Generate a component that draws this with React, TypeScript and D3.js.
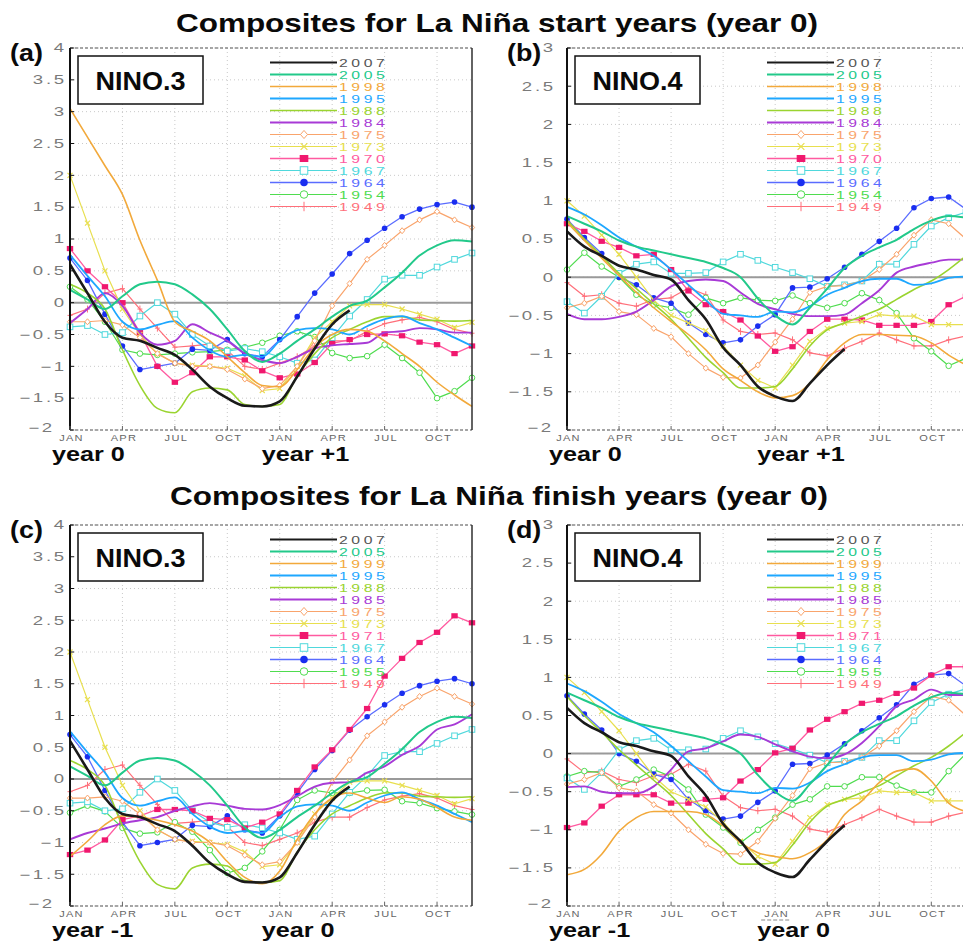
import React from 'react';
import * as d3 from 'd3';

// month index 0..23 = JAN of first year .. DEC of second year
const monthTicks = [0, 3, 6, 9, 12, 15, 18, 21];
const monthTickLabels = ['JAN', 'APR', 'JUL', 'OCT', 'JAN', 'APR', 'JUL', 'OCT'];

const startYears = ['2007', '2005', '1998', '1995', '1988', '1984', '1975', '1973', '1970', '1967', '1964', '1954', '1949'];
const finishYears = ['2007', '2005', '1999', '1995', '1988', '1985', '1975', '1973', '1971', '1967', '1964', '1955', '1949'];

const N = null;

// ---- NINO.3 ----
const n3_2007 = [0.6, 0.15, -0.3, -0.55, -0.6, -0.71, -0.82, -1.05, -1.32, -1.5, -1.62, -1.63, -1.55, -1.16, -0.72, -0.34, -0.12, N, N, N, N, N, N, N];
const n3_2005 = [0.2, 0.05, -0.1, 0.1, 0.29, 0.33, 0.29, 0.13, -0.1, -0.42, -0.76, -0.93, -0.8, -0.6, -0.42, -0.22, -0.05, 0.03, 0.24, 0.47, 0.74, 0.9, 0.98, 0.96];
const n3_1998 = [3.05, 2.6, 2.15, 1.7, 0.98, 0.35, -0.3, -0.45, -0.6, -0.85, -1.1, -1.3, -1.32, -1.05, -0.7, -0.5, -0.42, -0.45, -0.6, -0.8, -1.0, -1.25, -1.45, -1.63];
const n3_1995 = [0.75, 0.42, 0.1, -0.3, -0.42, -0.35, -0.29, -0.55, -0.75, -0.85, -0.82, -0.85, -0.6, -0.43, -0.4, -0.42, -0.5, -0.37, -0.26, -0.21, -0.32, -0.42, -0.55, -0.68];
const n3_1988 = [0.29, 0.15, -0.1, -0.74, -1.3, -1.66, -1.73, -1.4, -1.34, -1.37, -1.6, -1.63, -1.6, -1.15, -0.8, -0.55, -0.42, -0.3, -0.22, -0.22, -0.27, -0.28, -0.29, -0.28];
const n3_1984 = [-0.32, -0.1, 0.15, -0.05, -0.47, -0.66, -0.6, -0.34, -0.47, -0.6, -0.8, -0.9, -0.95, -0.85, -0.72, -0.67, -0.65, -0.63, -0.47, -0.45, -0.4, -0.42, -0.47, -0.47];
const n3_1975 = [-0.3, -0.3, -0.28, -0.35, -0.55, -0.8, -0.95, -1.0, -1.0, -1.05, -1.2, -1.35, -1.3, -1.0, -0.6, -0.05, 0.3, 0.68, 0.9, 1.13, 1.3, 1.43, 1.3, 1.18];
const n3_1973 = [2.0, 1.25, 0.5, -0.1, -0.5, -0.8, -0.95, -0.98, -1.0, -1.03, -1.15, -1.38, -1.35, -1.0, -0.55, -0.3, -0.05, -0.03, -0.03, -0.1, -0.18, -0.26, -0.39, -0.31];
const n3_1970 = [0.85, 0.5, 0.25, 0.0, -0.47, -1.0, -1.25, -1.1, -0.85, -0.85, -0.9, -1.07, -1.18, -1.12, -0.94, -0.64, -0.58, -0.5, -0.49, -0.52, -0.62, -0.66, -0.8, -0.68];
const n3_1967 = [-0.38, -0.36, -0.5, -0.47, -0.21, 0.0, -0.18, -0.5, -0.68, -0.76, -0.72, -0.77, -0.85, -0.95, -0.9, -0.55, -0.21, 0.05, 0.37, 0.43, 0.43, 0.56, 0.68, 0.78];
const n3_1964 = [0.7, 0.35, -0.18, -0.68, -1.05, -1.0, -0.95, -0.73, -0.75, -0.58, -0.8, -0.85, -0.58, -0.22, 0.15, 0.45, 0.77, 0.98, 1.17, 1.35, 1.47, 1.54, 1.58, 1.5];
const n3_1954 = [0.25, 0.05, -0.3, -0.74, -0.8, -0.82, -0.8, -0.78, -0.77, -0.74, -0.7, -0.63, -0.52, -0.45, -0.54, -0.79, -0.87, -0.84, -0.66, -0.87, -1.1, -1.5, -1.39, -1.18];
const n3_1949 = [-0.2, -0.1, 0.15, 0.22, -0.1, -0.4, -0.7, -0.68, -0.65, -0.75, -1.0, -1.05, -0.95, -0.85, -0.68, -0.6, -0.6, -0.45, -0.33, -0.27, -0.23, -0.3, -0.42, -0.48];
// finish-year members that differ
const n3_1999 = [-1.22, -0.98, -0.72, -0.58, -0.6, -0.65, -0.72, -0.82, -1.0, -1.3, -1.55, -1.65, -1.45, -0.95, -0.55, -0.3, -0.22, -0.3, -0.37, -0.28, -0.32, -0.45, -0.6, -0.65];
const n3_1985 = [-0.95, -0.85, -0.78, -0.7, -0.65, -0.6, -0.5, -0.43, -0.38, -0.42, -0.47, -0.48, -0.41, -0.27, -0.12, -0.06, -0.05, 0.1, 0.2, 0.38, 0.52, 0.78, 0.86, 1.02];
const n3_1971 = [-1.19, -1.12, -0.96, -0.64, -0.58, -0.48, -0.48, -0.5, -0.62, -0.64, -0.77, -0.68, -0.55, -0.18, 0.19, 0.46, 0.78, 1.11, 1.62, 1.9, 2.15, 2.31, 2.57, 2.46];
const n3_1955 = [-0.53, -0.42, -0.51, -0.77, -0.86, -0.84, -0.68, -0.83, -1.12, -1.48, -1.4, -1.14, -0.8, -0.33, -0.18, -0.22, -0.22, -0.18, -0.17, -0.35, -0.38, -0.46, -0.51, -0.56];

// ---- NINO.4 ----
const n4_2007 = [0.6, 0.4, 0.28, 0.15, 0.1, 0.03, -0.03, -0.3, -0.55, -0.92, -1.15, -1.43, -1.56, -1.62, -1.39, -1.15, -0.94, N, N, N, N, N, N, N];
const n4_2005 = [0.8, 0.7, 0.6, 0.48, 0.4, 0.35, 0.3, 0.25, 0.2, 0.12, 0.0, -0.28, -0.5, -0.62, -0.4, -0.15, 0.12, 0.28, 0.39, 0.49, 0.63, 0.74, 0.8, 0.78];
const n4_1998 = [0.72, 0.48, 0.25, 0.02, -0.2, -0.4, -0.58, -0.75, -0.95, -1.2, -1.35, -1.5, -1.58, -1.55, -1.39, -1.08, -0.86, -0.75, -0.75, -0.76, -0.77, -0.86, -1.02, -1.15];
const n4_1995 = [0.92, 0.82, 0.68, 0.52, 0.4, 0.28, 0.1, -0.1, -0.3, -0.48, -0.5, -0.52, -0.45, -0.46, -0.38, -0.23, -0.14, -0.05, -0.02, -0.02, -0.1, -0.08, -0.01, 0.01];
const n4_1988 = [0.75, 0.5, 0.28, 0.05, -0.15, -0.35, -0.55, -0.8, -1.05, -1.25, -1.45, -1.45, -1.43, -1.2, -0.9, -0.69, -0.6, -0.51, -0.42, -0.29, -0.16, -0.05, 0.1, 0.28];
const n4_1984 = [-0.48, -0.55, -0.55, -0.52, -0.45, -0.3, -0.12, -0.05, -0.03, -0.05, -0.2, -0.35, -0.42, -0.48, -0.51, -0.51, -0.49, -0.34, -0.17, 0.06, 0.14, 0.19, 0.23, 0.23];
const n4_1975 = [-0.4, -0.34, -0.25, -0.45, -0.49, -0.67, -0.78, -1.0, -1.19, -1.31, -1.32, -1.15, -0.85, -0.55, -0.2, -0.12, -0.11, -0.05, 0.1, 0.3, 0.55, 0.75, 0.7, 0.5];
const n4_1973 = [1.0, 0.8, 0.55, 0.3, 0.0, -0.3, -0.5, -0.6, -0.7, -0.9, -1.15, -1.35, -1.45, -1.15, -0.84, -0.67, -0.6, -0.58, -0.49, -0.51, -0.51, -0.62, -0.62, -0.62];
const n4_1970 = [0.7, 0.6, 0.47, 0.39, 0.28, 0.3, 0.1, -0.18, -0.36, -0.45, -0.56, -0.77, -0.97, -0.91, -0.71, -0.55, -0.55, -0.56, -0.63, -0.63, -0.63, -0.58, -0.36, -0.25];
const n4_1967 = [-0.32, -0.47, -0.25, 0.05, 0.17, 0.2, 0.05, 0.05, 0.06, 0.2, 0.3, 0.22, 0.13, 0.06, -0.02, -0.12, -0.1, -0.05, 0.17, 0.17, 0.43, 0.67, 0.78, 0.85];
const n4_1964 = [0.76, 0.52, 0.31, 0.0, -0.1, -0.27, -0.34, -0.6, -0.75, -0.86, -0.82, -0.64, -0.49, -0.14, -0.13, -0.02, 0.13, 0.3, 0.47, 0.64, 0.91, 1.03, 1.05, 0.89];
const n4_1954 = [0.1, 0.32, 0.14, 0.0, -0.23, -0.36, -0.4, -0.49, -0.27, -0.34, -0.27, -0.3, -0.31, -0.24, -0.34, -0.4, -0.34, -0.21, -0.3, -0.47, -0.8, -0.97, -1.16, -1.06];
const n4_1949 = [-0.07, -0.25, -0.23, -0.34, -0.38, -0.29, -0.27, -0.14, -0.23, -0.56, -0.71, -0.75, -0.73, -0.82, -0.99, -1.03, -0.93, -0.84, -0.73, -0.82, -0.9, -0.9, -0.82, -0.77];
const n4_1999 = [-1.59, -1.52, -1.32, -1.02, -0.84, -0.76, -0.76, -0.76, -0.8, -0.95, -1.17, -1.3, -1.35, -1.38, -1.3, -1.13, -0.8, -0.62, -0.38, -0.23, -0.2, -0.36, -0.65, -0.76];
const n4_1985 = [-0.44, -0.43, -0.5, -0.52, -0.52, -0.43, -0.21, 0.03, 0.07, 0.16, 0.25, 0.22, 0.12, 0.03, -0.04, -0.06, -0.01, 0.14, 0.36, 0.62, 0.71, 0.84, 0.77, 0.77];
const n4_1971 = [-0.97, -0.91, -0.69, -0.54, -0.54, -0.54, -0.65, -0.65, -0.6, -0.58, -0.36, -0.21, 0.01, 0.07, 0.31, 0.45, 0.55, 0.66, 0.7, 0.79, 0.86, 1.03, 1.14, 1.14];
const n4_1955 = [-0.3, -0.23, -0.25, -0.43, -0.34, -0.21, -0.3, -0.47, -0.8, -0.97, -1.17, -1.0, -0.84, -0.67, -0.6, -0.43, -0.43, -0.31, -0.31, -0.42, -0.51, -0.51, -0.23, 0.0];

// one style per legend row (same in all four panels)
const styles = [
  { color: '#1a1a1a', text: '#555', width: 2.6, smooth: true },
  { color: '#22c98a', width: 2, smooth: true },
  { color: '#f2a93b', width: 1.6, smooth: true },
  { color: '#1ea7ff', width: 1.8, smooth: true },
  { color: '#9ad430', width: 1.6, smooth: true },
  { color: '#a83ad6', width: 1.9, smooth: true },
  { color: '#f9a46c', width: 1.2, marker: 'diamond' },
  { color: '#e8df4f', width: 1.2, marker: 'cross' },
  { color: '#ff5aa0', width: 1.3, marker: 'fsquare', fill: '#f0186e' },
  { color: '#4fd8dc', width: 1.2, marker: 'osquare' },
  { color: '#5a6cff', width: 1.3, marker: 'fcircle', fill: '#1a2ef0' },
  { color: '#4fdc4f', width: 1.2, marker: 'ocircle' },
  { color: '#ff6f7a', width: 1.2, marker: 'plus' },
];

const panels = [
  { tag: '(a)', region: 'NINO.3', years: startYears, yMax: 4, left: 70, right: 472, top: 48, bottom: 430,
    labelGap: 4, lowShift: 12, yearLabels: ['year 0', 'year +1'],
    series: [n3_2007, n3_2005, n3_1998, n3_1995, n3_1988, n3_1984, n3_1975, n3_1973, n3_1970, n3_1967, n3_1964, n3_1954, n3_1949] },
  { tag: '(b)', region: 'NINO.4', years: startYears, yMax: 3, left: 567, right: 966, top: 48, bottom: 430,
    labelGap: 12, lowShift: 2, yearLabels: ['year 0', 'year +1'],
    series: [n4_2007, n4_2005, n4_1998, n4_1995, n4_1988, n4_1984, n4_1975, n4_1973, n4_1970, n4_1967, n4_1964, n4_1954, n4_1949] },
  { tag: '(c)', region: 'NINO.3', years: finishYears, yMax: 4, left: 70, right: 472, top: 525, bottom: 906,
    labelGap: 4, lowShift: 12, yearLabels: ['year -1', 'year 0'],
    series: [n3_2007, n3_2005, n3_1999, n3_1995, n3_1988, n3_1985, n3_1975, n3_1973, n3_1971, n3_1967, n3_1964, n3_1955, n3_1949] },
  { tag: '(d)', region: 'NINO.4', years: finishYears, yMax: 3, left: 567, right: 966, top: 525, bottom: 906,
    labelGap: 12, lowShift: 2, yearLabels: ['year -1', 'year 0'], underline: true,
    series: [n4_2007, n4_2005, n4_1999, n4_1995, n4_1988, n4_1985, n4_1975, n4_1973, n4_1971, n4_1967, n4_1964, n4_1955, n4_1949] },
];

const SANS = 'Liberation Sans, Arial, Helvetica, sans-serif';

function Marker({ kind, cx, cy, color, fill, s = 1 }) {
  switch (kind) {
    case 'diamond':
      return <path d={`M${cx},${cy - 3 * s}L${cx + 2.6 * s},${cy}L${cx},${cy + 3 * s}L${cx - 2.6 * s},${cy}Z`} fill="#fff" stroke={color} strokeWidth={1} />;
    case 'cross':
      return <path d={`M${cx - 2.5 * s},${cy - 2.5 * s}L${cx + 2.5 * s},${cy + 2.5 * s}M${cx - 2.5 * s},${cy + 2.5 * s}L${cx + 2.5 * s},${cy - 2.5 * s}`} stroke={color} strokeWidth={1.2} />;
    case 'fsquare':
      return <rect x={cx - 3.2 * s} y={cy - 2.6 * s} width={6.4 * s} height={5.2 * s} fill={fill} />;
    case 'osquare':
      return <rect x={cx - 2.8 * s} y={cy - 2.8 * s} width={5.6 * s} height={5.6 * s} fill="#fff" stroke={color} strokeWidth={1} />;
    case 'fcircle':
      return <circle cx={cx} cy={cy} r={2.8 * s} fill={fill} />;
    case 'ocircle':
      return <circle cx={cx} cy={cy} r={2.8 * s} fill="#fff" stroke={color} strokeWidth={1} />;
    case 'plus':
      return <path d={`M${cx},${cy - 3.5 * s}L${cx},${cy + 3.5 * s}M${cx - 2.5 * s},${cy}L${cx + 2.5 * s},${cy}`} stroke={color} strokeWidth={1} />;
    default:
      return null;
  }
}

// text stretched horizontally, like the bitmap lettering of the original
function Wide({ x, y, sx, size, anchor = 'start', bold = true, fill = '#0a0a0a', ls = 0, children }) {
  return (
    <text transform={`translate(${x},${y}) scale(${sx},1)`} textAnchor={anchor} fontFamily={SANS}
      fontWeight={bold ? 'bold' : 'normal'} fontSize={size} letterSpacing={ls} fill={fill}>{children}</text>
  );
}

function fmt(v) {
  const a = Math.abs(v);
  const t = Number.isInteger(a) ? String(a) : a.toFixed(1);
  return v < 0 ? '\u2212' + t : t;
}

function Panel({ p }) {
  const x = d3.scaleLinear().domain([0, 23]).range([p.left, p.right]);
  const y = d3.scaleLinear().domain([-2, p.yMax]).range([p.bottom, p.top]);
  const yTicks = d3.range(-2, p.yMax + 0.01, 0.5);
  const legX = p.left + 200;
  const legY = p.top + 14.5;
  const order = d3.range(p.series.length).reverse();

  return (
    <g>
      {/* dotted grid */}
      {yTicks.map((t) => (
        <line key={'gy' + t} x1={p.left} x2={p.right} y1={y(t)} y2={y(t)} stroke="#c9c9c9" strokeWidth={1} strokeDasharray="1 3" />
      ))}
      {monthTicks.map((m) => (
        <line key={'gx' + m} x1={x(m)} x2={x(m)} y1={p.top} y2={p.bottom} stroke="#c9c9c9" strokeWidth={1} strokeDasharray="1 3" />
      ))}
      {/* zero line */}
      <line x1={p.left} x2={p.right} y1={y(0)} y2={y(0)} stroke="#9a9a9a" strokeWidth={2} />

      {/* series */}
      {order.map((i) => {
        const st = styles[i];
        const vals = p.series[i];
        const line = d3.line()
          .defined((v) => v != null)
          .x((_, j) => x(j))
          .y((v) => y(v))
          .curve(st.smooth ? d3.curveMonotoneX : d3.curveLinear);
        return (
          <g key={'s' + i}>
            <path d={line(vals)} fill="none" stroke={st.color} strokeWidth={st.width} strokeLinejoin="round" />
            {st.marker && vals.map((v, j) => v == null ? null : (
              <Marker key={j} kind={st.marker} cx={x(j)} cy={y(v)} color={st.color} fill={st.fill} />
            ))}
          </g>
        );
      })}

      {/* frame */}
      <line x1={p.left} x2={p.right} y1={p.top} y2={p.top} stroke="#8a8a8a" strokeWidth={1.6} strokeDasharray="3 2" />
      <line x1={p.left} x2={p.right} y1={p.bottom} y2={p.bottom} stroke="#8a8a8a" strokeWidth={1.6} strokeDasharray="3 2" />
      <line x1={p.right} x2={p.right} y1={p.top} y2={p.bottom} stroke="#222" strokeWidth={1.4} />
      <line x1={p.left} x2={p.left} y1={p.top} y2={p.bottom} stroke="#111" strokeWidth={2} />
      {yTicks.map((t) => (
        <line key={'ty' + t} x1={p.left} x2={p.left + 4} y1={y(t)} y2={y(t)} stroke="#111" strokeWidth={1} />
      ))}
      {monthTicks.map((m) => (
        <line key={'tx' + m} x1={x(m)} x2={x(m)} y1={p.bottom} y2={p.bottom - 4} stroke="#666" strokeWidth={1} />
      ))}

      {/* y tick labels (the lowest one sits a little left and up, clear of JAN) */}
      {yTicks.map((t) => (
        <Wide key={'ly' + t} x={p.left - p.labelGap + 1 - (t === -2 ? p.lowShift : 0)} y={y(t) + (t === -2 ? 2 : 4.3)}
          sx={1.55} size={12} anchor="end" bold={false} ls={1.8} fill="#7a7a7a">{fmt(t)}</Wide>
      ))}
      {/* x tick labels */}
      {monthTicks.map((m, k) => (
        <Wide key={'lx' + m} x={x(m) + 1.5} y={p.bottom + 10.5} sx={1.3} size={8.5} anchor="middle" bold={false}
          ls={1} fill="#666">{monthTickLabels[k]}</Wide>
      ))}
      {p.underline && (
        <line x1={x(12) - 14} x2={x(12) + 16} y1={p.bottom + 14} y2={p.bottom + 14} stroke="#888" strokeWidth={1} strokeDasharray="4 2" />
      )}
      <Wide x={x(0) - 18} y={p.bottom + 31} sx={1.2} size={21}>{p.yearLabels[0]}</Wide>
      <Wide x={x(12) - 18} y={p.bottom + 31} sx={1.2} size={21}>{p.yearLabels[1]}</Wide>

      {/* panel tag and region box */}
      <Wide x={p.left - 60} y={p.top + 13} sx={1.12} size={24}>{p.tag}</Wide>
      <rect x={p.left + 8} y={p.top + 8} width={125} height={48} fill="#fff" stroke="#111" strokeWidth={1.5} />
      <Wide x={p.left + 70.5} y={p.top + 42} sx={1.08} size={25} anchor="middle">{p.region}</Wide>

      {/* legend */}
      {p.years.map((yr, i) => {
        const st = styles[i];
        const ly = legY + i * 12;
        return (
          <g key={'lg' + yr}>
            <line x1={legX} x2={legX + 67} y1={ly} y2={ly} stroke={st.color} strokeWidth={Math.min(st.width, 2)} />
            {st.marker && <Marker kind={st.marker} cx={legX + 34} cy={ly} color={st.color} fill={st.fill} s={1.35} />}
            <Wide x={legX + 69} y={ly + 4} sx={1.5} size={10.5} bold={false} ls={2.4} fill={st.text || st.color}>{yr}</Wide>
          </g>
        );
      })}
    </g>
  );
}

export default function App() {
  return (
    <svg width={963} height={943} style={{ position: 'absolute', left: 0, top: 0, background: '#fff' }}>
      <rect width={963} height={943} fill="#fff" />
      <Wide x={497} y={32} sx={1.26} size={25} anchor="middle">Composites for La Niña start years (year 0)</Wide>
      <Wide x={499} y={505} sx={1.26} size={25} anchor="middle">Composites for La Niña finish years (year 0)</Wide>
      {panels.map((p) => <Panel key={p.tag} p={p} />)}
    </svg>
  );
}
